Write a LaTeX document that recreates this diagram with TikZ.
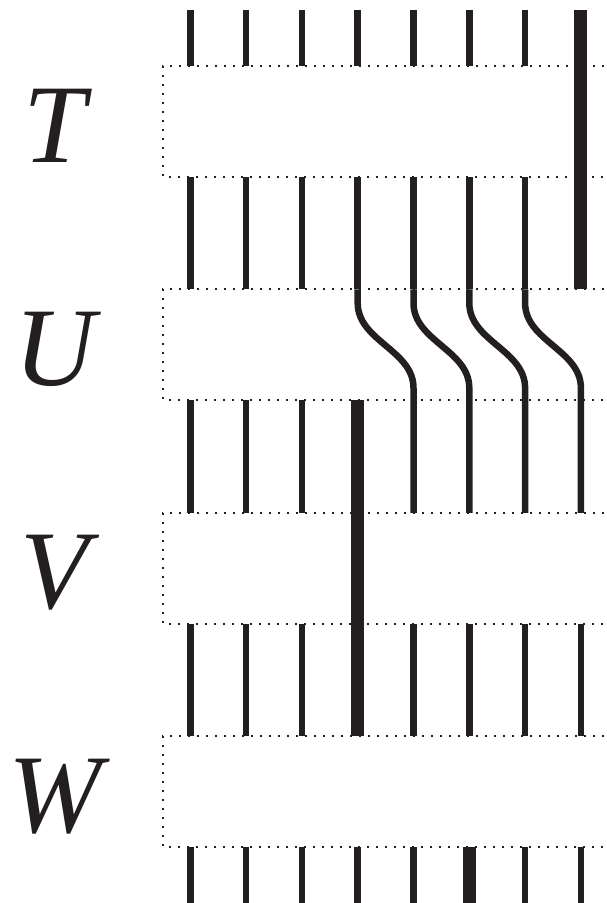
\documentclass[tikz,border=0pt]{standalone}
\usepackage{fontspec}
\setmainfont{Liberation Serif}
\definecolor{ink}{HTML}{231F20}
\begin{document}
\begin{tikzpicture}[x=1pt,y=-1pt,
  thinwire/.style={draw=ink,line width=6.5pt},
  thickwire/.style={draw=ink,line width=13pt},
  boxedge/.style={draw=ink,line width=2pt,dash pattern=on 2pt off 7pt},
  lbl/.style={anchor=base,inner sep=0pt,text=ink,font=\fontsize{112}{112}\selectfont\itshape}]
\useasboundingbox (0,0) rectangle (606,903);
\clip (0,0) rectangle (606,903);
% boxes
\foreach \n/\t in {T/66,U/289.4,V/512.8,W/736.2}{
  \path[boxedge] (640,\t) -- (163,\t) -- (163,\t+111) -- (640,\t+111);
  \node[lbl] (L\n) at (55,\t+96) {\n};
}
% top stubs above T
\foreach \i in {0,...,6}{\draw[thinwire] (190.3+55.8*\i,10) -- (190.3+55.8*\i,66);}
\draw[thickwire] (190.3+55.8*7,10) -- (190.3+55.8*7,289.4);
% between T and U
\foreach \i in {0,...,6}{\draw[thinwire] (190.3+55.8*\i,177) -- (190.3+55.8*\i,289.4);}
% through U: braids
\foreach \i in {3,...,6}{
  \draw[thinwire] (190.3+55.8*\i,289.4) -- (190.3+55.8*\i,303)
     .. controls (190.3+55.8*\i,341) and (246.1+55.8*\i,350) .. (246.1+55.8*\i,388)
     -- (246.1+55.8*\i,512.8);}
% between U and V
\foreach \i in {0,1,2}{\draw[thinwire] (190.3+55.8*\i,400.4) -- (190.3+55.8*\i,512.8);}
\draw[thickwire] (190.3+55.8*3,400.4) -- (190.3+55.8*3,736.2);
% between V and W
\foreach \i in {0,1,2,4,5,6,7}{\draw[thinwire] (190.3+55.8*\i,623.8) -- (190.3+55.8*\i,736.2);}
% below W
\foreach \i in {0,1,2,3,4,6,7}{\draw[thinwire] (190.3+55.8*\i,847.2) -- (190.3+55.8*\i,910);}
\draw[thickwire] (190.3+55.8*5,847.2) -- (190.3+55.8*5,910);
\end{tikzpicture}
\end{document}
